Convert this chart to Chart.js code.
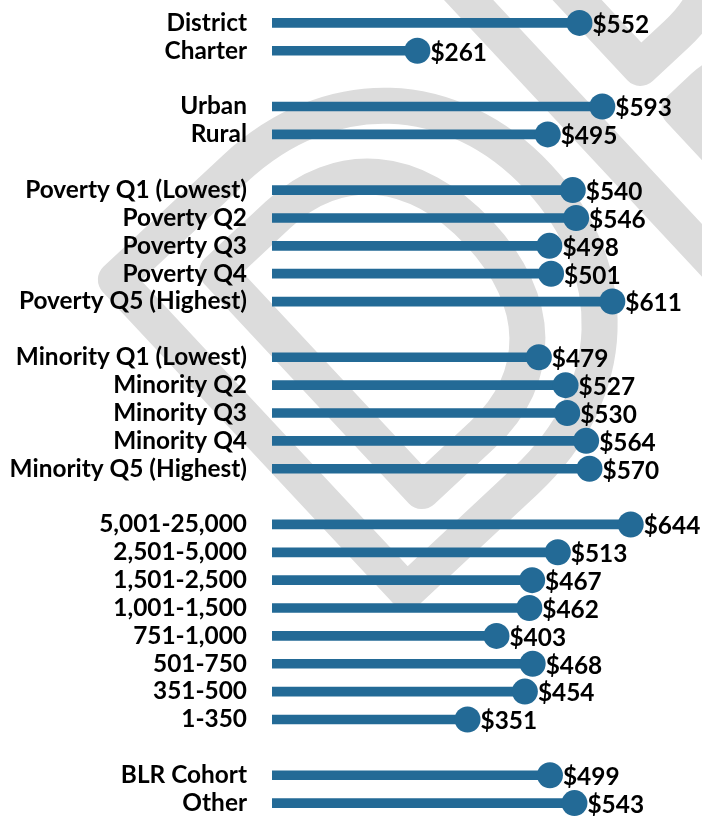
<!DOCTYPE html>
<html>
<head>
<meta charset="utf-8">
<script src="https://cdn.jsdelivr.net/npm/chart.js@4.4.0/dist/chart.umd.min.js"></script>
<style>
  html, body { margin: 0; padding: 0; background: #fff; }
  #wrap { width: 702px; height: 817px; position: relative; }
</style>
</head>
<body>
<div id="wrap"><canvas id="spendChart"></canvas></div>
<script>
// categories (empty strings are the gaps between groups)
const categories = [
  "District", "Charter", "",
  "Urban", "Rural", "",
  "Poverty Q1 (Lowest)", "Poverty Q2", "Poverty Q3", "Poverty Q4", "Poverty Q5 (Highest)", "",
  "Minority Q1 (Lowest)", "Minority Q2", "Minority Q3", "Minority Q4", "Minority Q5 (Highest)", "",
  "5,001-25,000", "2,501-5,000", "1,501-2,500", "1,001-1,500", "751-1,000", "501-750", "351-500", "1-350", "",
  "BLR Cohort", "Other"
];

const spending = [
  552, 261, null,
  593, 495, null,
  540, 546, 498, 501, 611, null,
  479, 527, 530, 564, 570, null,
  644, 513, 467, 462, 403, 468, 454, 351, null,
  499, 543
];

const xMin = 0;
const xMax = 772;

const BLUE = "#236a96";
const FONT = "Lato, 'Open Sans', sans-serif";

// faint outlined "DRAFT" stamp behind the chart
const watermark = {
  id: "watermark",
  beforeDraw(chart) {
    const ctx = chart.ctx;
    ctx.save();
    ctx.translate(372, 624);
    ctx.rotate(-43 * Math.PI / 180);
    ctx.strokeStyle = "#dcdcdc";
    ctx.lineWidth = 36;
    ctx.lineJoin = "round";
    ctx.font = "bold 590px Lato";
    ctx.textBaseline = "alphabetic";
    ctx.strokeText("DRAFT", 0, 0);
    ctx.restore();
  }
};

const valueLabels = {
  id: "valueLabels",
  afterDatasetsDraw(chart) {
    const ctx = chart.ctx;
    const x = chart.scales.x;
    const y = chart.scales.y;
    ctx.save();
    ctx.font = "bold 24.4px " + FONT;
    ctx.fillStyle = "#000";
    ctx.textAlign = "left";
    ctx.textBaseline = "middle";
    spending.forEach((v, i) => {
      if (v == null) return;
      ctx.fillText("$" + v, x.getPixelForValue(v) + 13, y.getPixelForValue(i) + 2);
    });
    ctx.restore();
  }
};

const ctx = document.getElementById("spendChart");
new Chart(ctx, {
  data: {
    labels: categories,
    datasets: [
      {
        type: "line",
        data: spending,
        showLine: false,
        pointRadius: 13,
        pointHoverRadius: 13,
        pointBackgroundColor: BLUE,
        pointBorderWidth: 0,
        borderColor: BLUE,
      },
      {
        type: "bar",
        data: spending,
        backgroundColor: BLUE,
        barThickness: 9,
      },
    ],
  },
  options: {
    indexAxis: "y",
    responsive: true,
    maintainAspectRatio: false,
    animation: false,
    layout: { autoPadding: false, padding: { top: 9, bottom: -4, left: 0, right: 0 } },
    plugins: {
      legend: { display: false },
      tooltip: { enabled: false },
    },
    scales: {
      x: {
        display: false,
        min: xMin,
        max: xMax,
      },
      y: {
        grid: { display: false },
        border: { display: false },
        ticks: {
          color: "#000",
          padding: 17,
          autoSkip: false,
          font: { family: FONT, size: 24.4, weight: "bold" },
        },
        afterFit(scale) {
          scale.width = 272;
          scale.paddingTop = 0;
          scale.paddingBottom = 0;
        },
      },
    },
  },
  plugins: [watermark, valueLabels],
});
</script>
</body>
</html>
